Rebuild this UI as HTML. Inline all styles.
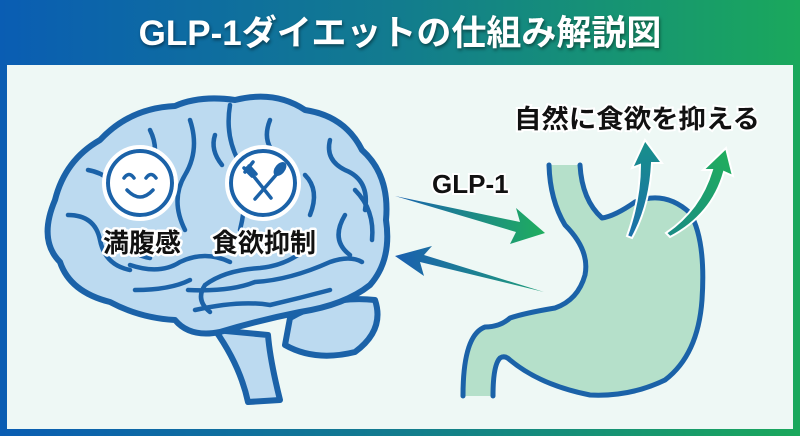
<!DOCTYPE html>
<html><head><meta charset="utf-8"><style>
html,body{margin:0;padding:0;}
body{width:800px;height:436px;overflow:hidden;background:linear-gradient(90deg,#0a5db3 0%,#127c8e 50%,#1aa85c 100%);font-family:"Liberation Sans","Noto Sans CJK JP",sans-serif;position:relative;}
.title{position:absolute;left:0;width:800px;top:5px;text-align:center;color:#fff;font-weight:bold;font-size:35px;text-shadow:1px 2px 3px rgba(0,0,0,.45);}
.panel{position:absolute;left:7px;top:65px;width:786px;height:364px;background:#eef8f5;}
svg{position:absolute;left:0;top:0;}
</style></head><body>
<div class="title">GLP-1ダイエットの仕組み解説図</div>
<div class="panel"></div>
<svg width="800" height="436" viewBox="0 0 800 436">
<defs>
<linearGradient id="ga" x1="0" y1="0" x2="1" y2="0"><stop offset="0" stop-color="#1a62b0"/><stop offset="1" stop-color="#1fae5e"/></linearGradient>
<linearGradient id="gb" x1="1" y1="0" x2="0" y2="0"><stop offset="0" stop-color="#1f9e78"/><stop offset="1" stop-color="#1a5fb0"/></linearGradient>
<linearGradient id="gu" x1="0" y1="1" x2="0" y2="0"><stop offset="0" stop-color="#1d6faa"/><stop offset="1" stop-color="#17908a"/></linearGradient>
<linearGradient id="gu2" x1="0" y1="1" x2="1" y2="0"><stop offset="0" stop-color="#1a8a86"/><stop offset="1" stop-color="#20b05a"/></linearGradient>
</defs>
<g stroke="#1b62a8" stroke-width="6" stroke-linecap="round" stroke-linejoin="round" fill="#bcdaf0">
<path d="M215 330 Q240 365 248 402 L280 400 Q270 360 268 335 Z"/>
<path d="M290 318 Q330 295 375 300 Q385 330 355 352 Q315 362 285 345 Z"/>
<path d="M55 200 Q65 160 100 140 Q130 108 175 106 Q200 95 235 100 Q275 90 305 110 Q345 116 362 150 Q390 175 386 220 Q392 260 370 285 Q345 305 300 312 Q260 320 220 332 Q190 338 175 320 Q140 318 110 302 Q70 292 60 262 Q38 240 55 200 Z"/>
</g>
<g stroke="#1b62a8" stroke-width="4.5" stroke-linecap="round" fill="none">
<path d="M190 120 Q200 150 185 175 Q170 200 185 230"/>
<path d="M230 105 Q225 135 238 160 Q250 190 240 230"/>
<path d="M270 120 Q260 145 282 160"/>
<path d="M68 215 Q95 215 100 240 Q105 265 130 270"/>
<path d="M88 170 Q115 175 120 200"/>
<path d="M150 130 Q160 150 150 170"/>
<path d="M130 265 Q160 275 180 262 Q205 250 230 262"/>
<path d="M135 290 Q170 290 190 280"/>
<path d="M120 235 Q130 255 150 258"/>
<path d="M330 140 Q325 160 345 170 Q370 180 365 210"/>
<path d="M305 175 Q320 190 310 215"/>
<path d="M345 215 Q330 240 350 255"/>
<path d="M310 245 Q290 265 260 268 Q225 270 205 285 Q195 300 210 312"/>
<path d="M188 290 Q230 292 255 282 Q290 280 330 262 Q350 255 362 262"/>
<path d="M195 310 Q240 300 270 305 Q300 298 330 290"/>
<path d="M355 190 Q375 210 372 240"/>
<path d="M215 135 Q210 150 222 165"/>
</g>
<g fill="#fff" stroke="#1b62a8" stroke-width="4">
<circle cx="140" cy="183" r="32"/>
<circle cx="263" cy="183" r="32"/>
</g>
<circle cx="140" cy="183" r="36" fill="none" stroke="#fff" stroke-width="4"/>
<circle cx="263" cy="183" r="36" fill="none" stroke="#fff" stroke-width="4"/>
<g stroke="#1b62a8" stroke-width="3.5" fill="none" stroke-linecap="round">
<path d="M124 178 Q129 171 134 178"/><path d="M146 178 Q151 171 156 178"/>
<path d="M127 190 Q140 204 153 190"/>
<path d="M247 168 L271 198"/><path d="M245 172 L253 162 M249 166 L256 174 M244 168 L252 176"/>
<path d="M283 167 L255 199"/>
</g>
<ellipse cx="280" cy="169" rx="5" ry="8" transform="rotate(40 280 169)" fill="#1b62a8"/>
<g font-weight="bold" font-size="26" text-anchor="middle" fill="#111" stroke="#fff" stroke-width="5" paint-order="stroke" stroke-linejoin="round">
<text x="142" y="252">満腹感</text>
<text x="264" y="252">食欲抑制</text>
</g>
<path d="M549 165 L580 165 Q582 200 602 218 Q615 216 635 202 Q665 190 690 213 Q706 240 702 300 Q698 355 665 380 Q630 397 590 395 Q540 385 510 360 Q505 355 500 358 Q493 365 493 396 L463 396 Q463 335 485 327 Q500 327 510 318 Q525 313 555 308 Q578 300 585 275 Q590 250 565 225 Q550 200 549 165 Z" fill="#b5e0ca"/>
<g stroke="#1b62a8" stroke-width="5" fill="none" stroke-linecap="round" stroke-linejoin="round">
<path d="M549 165 Q550 200 565 225 Q590 250 585 275 Q578 300 555 308 Q525 313 510 318 Q500 327 485 327 Q463 335 463 396"/>
<path d="M580 165 Q582 200 602 218 Q615 216 635 202 Q665 190 690 213 Q706 240 702 300 Q698 355 665 380 Q630 397 590 395 Q540 385 510 360 Q505 355 500 358 Q493 365 493 396"/>
</g>
<path d="M627 236 Q640 200 640 165 L632 168 L645 140 L662 163 L652 163 Q650 205 632 238 Z" fill="url(#gu)" stroke="#fff" stroke-width="2"/>
<path d="M666 233 Q700 210 712 170 L703 170 L726 148 L733 176 L724 172 Q712 215 670 237 Z" fill="url(#gu2)" stroke="#fff" stroke-width="2"/>
<path d="M395 196 L520 222 L516 208 L545 233 L510 244 L516 232 Z" fill="url(#ga)"/>
<path d="M544 292 L420 262 L424 276 L395 256 L432 246 L424 255 Z" fill="url(#gb)"/>
<g font-weight="bold" fill="#111" stroke="#fff" stroke-width="4" paint-order="stroke">
<text x="432" y="193" font-size="26">GLP-1</text>
<text x="514" y="128" font-size="26" textLength="246" lengthAdjust="spacingAndGlyphs">自然に食欲を抑える</text>
</g>
</svg>
</body></html>
